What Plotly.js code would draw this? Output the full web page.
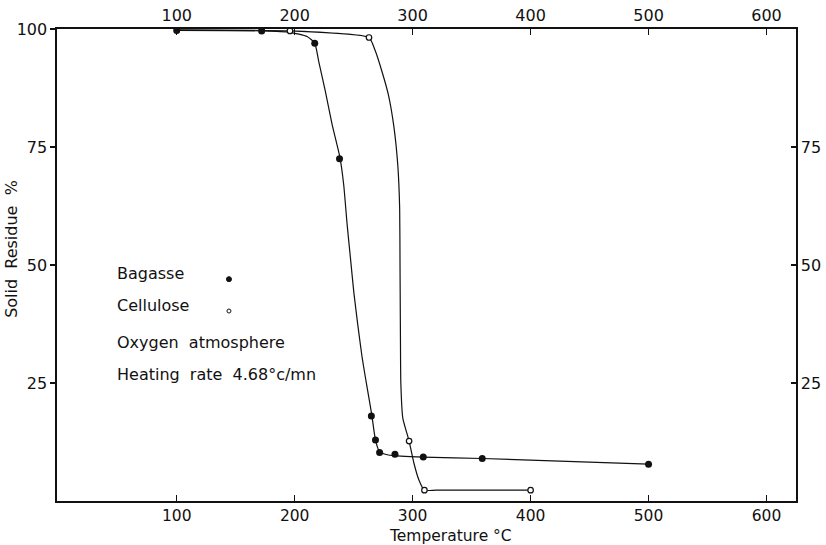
<!DOCTYPE html>
<html>
<head>
<meta charset="utf-8">
<script src="https://cdn.plot.ly/plotly-3.0.1.min.js"></script>
<style>html,body{margin:0;padding:0;background:#fff;}#chart{width:826px;height:545px;}</style>
</head>
<body>
<div id="chart"></div>
<script>
// Measured points (markers)
const bagasseTemp = [100, 172, 217, 238, 265, 268.5, 272, 285, 309, 359, 500];
const bagasseResidue = [99.7, 99.6, 97.0, 72.5, 18.0, 12.9, 10.3, 9.9, 9.3, 9.0, 7.8];
const celluloseTemp = [196, 263, 297, 310, 400];
const celluloseResidue = [99.6, 98.2, 12.7, 2.3, 2.3];

// Drawn (hand-fitted) curves
const bagasseCurveTemp = [100, 172, 196, 210.5, 217, 220.4, 226.1, 231.8, 238.2, 241.6, 244.5, 247.3, 250.1, 253.5, 257.3, 261.5, 265.2, 268.5, 272, 278.5, 285, 298, 309, 359, 500];
const bagasseCurveResidue = [99.7, 99.6, 99.3, 98.4, 97.0, 93.1, 86.7, 79.7, 73.0, 66.9, 58.5, 51.4, 44.3, 37.3, 30.2, 23.9, 18.5, 12.9, 10.4, 9.8, 9.6, 9.4, 9.3, 9.0, 7.8];
const celluloseCurveTemp = [100, 196, 263, 268, 274, 279.5, 284.1, 287.5, 289, 289.3, 289.6, 290, 291.7, 297, 301.1, 305.4, 310, 320, 400];
const celluloseCurveResidue = [99.8, 99.6, 98.2, 95.6, 91.0, 86.0, 79.3, 70.8, 62.0, 50.0, 37.3, 25.0, 17.5, 12.7, 8.0, 4.4, 2.3, 2.3, 2.3];

const xTicks = [100, 200, 300, 400, 500, 600];
const yTicksLeft = [25, 50, 75, 100];
const yTicksRight = [25, 50, 75];

const ink = '#111';
const FONT = 'DejaVu Sans, sans-serif';

const traces = [
  {x: bagasseCurveTemp, y: bagasseCurveResidue, mode: 'lines', line: {color: ink, width: 1.2, shape: 'spline', smoothing: 0.5}, hoverinfo: 'skip', showlegend: false},
  {x: celluloseCurveTemp, y: celluloseCurveResidue, mode: 'lines', line: {color: ink, width: 1.2, shape: 'spline', smoothing: 0.5}, hoverinfo: 'skip', showlegend: false},
  {x: bagasseTemp, y: bagasseResidue, mode: 'markers', name: 'Bagasse', marker: {symbol: 'circle', size: 7, color: ink}, showlegend: false},
  {x: celluloseTemp, y: celluloseResidue, mode: 'markers', name: 'Cellulose', marker: {symbol: 'circle', size: 5.5, color: '#fff', line: {color: ink, width: 1.2}}, showlegend: false},
  {x: [], y: [], xaxis: 'x2', yaxis: 'y2', mode: 'markers', showlegend: false, hoverinfo: 'skip'}
];

const tickFont = {family: FONT, size: 16, color: ink};
const bottomTickFont = {family: FONT, size: 15.5, color: ink};
const textFont = {family: FONT, size: 16, color: ink};

const layout = {
  width: 826, height: 545,
  margin: {l: 57, r: 30, t: 29, b: 44},
  paper_bgcolor: '#fff', plot_bgcolor: '#fff',
  showlegend: false,
  xaxis: {range: [-1.5, 625], tickvals: xTicks, ticktext: xTicks.map(String), ticks: 'inside', ticklen: 6, tickwidth: 1.3, tickcolor: ink,
          showline: true, linecolor: ink, linewidth: 1.6, showgrid: false, zeroline: false, tickfont: bottomTickFont, ticklabelstandoff: 0},
  xaxis2: {range: [-1.5, 625], overlaying: 'x', side: 'top', anchor: 'y2', tickvals: xTicks, ticktext: xTicks.map(String), ticks: 'inside', ticklen: 6, tickwidth: 1.3, tickcolor: ink,
          showline: true, linecolor: ink, linewidth: 1.6, showgrid: false, zeroline: false, tickfont: tickFont},
  yaxis: {range: [0, 100], tickvals: yTicksLeft, ticktext: yTicksLeft.map(String), ticks: 'outside', ticklen: 5, tickwidth: 1.3, tickcolor: ink,
          showline: true, linecolor: ink, linewidth: 1.6, showgrid: false, zeroline: false, tickfont: tickFont},
  yaxis2: {range: [0, 100], overlaying: 'y', side: 'right', anchor: 'x2', tickvals: yTicksRight, ticktext: yTicksRight.map(String), ticks: 'inside', ticklen: 5, tickwidth: 1.3, tickcolor: ink,
          showline: true, linecolor: ink, linewidth: 1.6, showgrid: false, zeroline: false, tickfont: tickFont},
  annotations: [
    {text: 'Solid\u00a0 Residue\u00a0 %', xref: 'paper', yref: 'paper', x: -0.061, y: 0.534, textangle: -90, showarrow: false, font: {family: FONT, size: 16, color: ink}, xanchor: 'center', yanchor: 'middle'},
    {text: 'Temperature\u00a0°C', xref: 'paper', yref: 'paper', x: 0.532, y: -0.074, showarrow: false, font: {family: FONT, size: 15.5, color: ink}, xanchor: 'center', yanchor: 'middle'},
    {text: 'Bagasse', xref: 'paper', yref: 'paper', x: 0.0785, y: 0.483, showarrow: false, font: textFont, xanchor: 'left', yanchor: 'middle'},
    {text: 'Cellulose', xref: 'paper', yref: 'paper', x: 0.0785, y: 0.415, showarrow: false, font: textFont, xanchor: 'left', yanchor: 'middle'},
    {text: 'Oxygen\u00a0 atmosphere', xref: 'paper', yref: 'paper', x: 0.0785, y: 0.335, showarrow: false, font: textFont, xanchor: 'left', yanchor: 'middle'},
    {text: 'Heating\u00a0 rate\u00a0 4.68°c/mn', xref: 'paper', yref: 'paper', x: 0.0785, y: 0.269, showarrow: false, font: textFont, xanchor: 'left', yanchor: 'middle'}
  ],
  shapes: [
    {type: 'circle', xref: 'paper', yref: 'paper', xsizemode: 'pixel', ysizemode: 'pixel', xanchor: 0.2327, yanchor: 0.470, x0: -2.5, x1: 2.5, y0: -2.5, y1: 2.5, fillcolor: ink, line: {color: ink, width: 1}},
    {type: 'circle', xref: 'paper', yref: 'paper', xsizemode: 'pixel', ysizemode: 'pixel', xanchor: 0.2327, yanchor: 0.4025, x0: -2, x1: 2, y0: -2, y1: 2, fillcolor: '#fff', line: {color: ink, width: 1}}
  ]
};

Plotly.newPlot('chart', traces, layout, {staticPlot: true, displayModeBar: false});
</script>
</body>
</html>
